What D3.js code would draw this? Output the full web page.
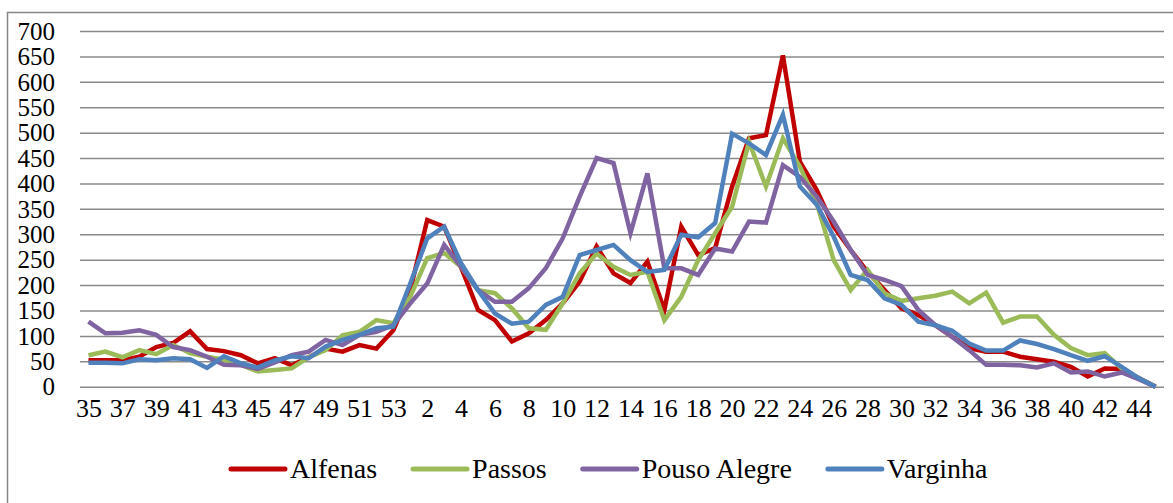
<!DOCTYPE html>
<html>
<head>
<meta charset="utf-8">
<script src="https://cdn.jsdelivr.net/npm/d3@7"></script>
</head>
<body style="margin:0;background:#fff">
<svg id="chart" width="1173" height="503" style="display:block;background:#fff"></svg>
<script>
// Epidemiological weeks (end of one year, then the next)
const weeks = [35,36,37,38,39,40,41,42,43,44,45,46,47,48,49,50,51,52,53,
  1,2,3,4,5,6,7,8,9,10,11,12,13,14,15,16,17,18,19,20,21,22,23,24,25,26,27,28,29,30,
  31,32,33,34,35,36,37,38,39,40,41,42,43,44,45];

const alfenas = [52,52,52,59,78,86,109,74,70,62,46,56,42,58,75,69,82,75,111,190,
  328,315,235,151,131,89,105,131,164,207,276,223,204,246,151,315,259,273,394,489,495,652,
  443,387,315,269,226,190,154,141,121,98,76,69,69,59,54,49,39,20,36,35,17,0];

const passos = [62,69,58,72,64,82,66,59,53,43,30,33,36,58,72,101,108,131,125,177,
  253,263,236,190,184,154,115,112,164,223,262,236,220,226,131,177,249,302,354,482,394,489,
  433,361,249,190,230,184,169,174,179,187,164,185,126,138,138,102,76,62,66,36,17,0];

const pousoAlegre = [128,105,106,111,102,78,72,59,43,42,35,48,62,69,92,82,102,108,121,164,
  203,279,236,190,167,167,194,233,292,374,450,440,302,420,233,233,220,272,266,325,323,436,
  413,374,325,269,220,210,198,151,121,98,72,43,43,42,38,46,28,30,20,28,15,0];

const varginha = [47,47,46,54,52,56,54,37,60,46,38,52,60,56,79,92,102,115,118,203,
  292,315,243,190,144,124,128,161,177,259,269,279,249,226,230,299,294,322,498,479,456,535,
  394,358,295,220,210,174,161,128,121,110,85,71,71,91,84,74,62,51,60,39,17,0];

const seriesNames = ["Alfenas", "Passos", "Pouso Alegre", "Varginha"];
const seriesColors = ["#C00000", "#9BBB59", "#8064A2", "#4F81BD"];
const yTicks = [0,50,100,150,200,250,300,350,400,450,500,550,600,650,700];

const FONT_STYLE = "font-family:'Liberation Serif'";

const series = [alfenas, passos, pousoAlegre, varginha].map((values, k) => ({
  name: seriesNames[k], color: seriesColors[k], values
}));

const svg = d3.select("#chart");

// outer frame
svg.append("rect")
  .attr("x", 7.5).attr("y", 12.5)
  .attr("width", 1180).attr("height", 510)
  .attr("fill", "none").attr("stroke", "#878787").attr("stroke-width", 1.5);

const plotLeft = 80, plotRight = 1164, plotTop = 31, plotBottom = 386.7;

const x = d3.scalePoint()
  .domain(d3.range(weeks.length))
  .range([plotLeft, plotRight])
  .padding(0.5);

const y = d3.scaleLinear().domain([0, 700]).range([plotBottom, plotTop]);

// gridlines
const grid = svg.append("g")
  .attr("transform", `translate(${plotLeft},0)`)
  .call(d3.axisLeft(y).tickValues(yTicks).tickSize(-(plotRight - plotLeft)).tickFormat(""));
grid.select(".domain").remove();
grid.selectAll("line").attr("stroke", "#8a8a8a").attr("stroke-width", 1.5);

// y labels
const yAxis = svg.append("g")
  .attr("transform", `translate(55,0)`)
  .call(d3.axisLeft(y).tickValues(yTicks).tickSize(0).tickPadding(0));
yAxis.attr("font-family", null).attr("font-size", null);
yAxis.select(".domain").remove();
yAxis.selectAll("text")
  .attr("style", FONT_STYLE)
  .attr("font-size", 25)
  .attr("fill", "#000")
  .attr("dy", "0.33em");

// x labels
const xAxis = svg.append("g")
  .attr("transform", `translate(0,${plotBottom})`)
  .call(d3.axisBottom(x)
    .tickValues(d3.range(0, weeks.length, 2))
    .tickSize(0).tickPadding(0)
    .tickFormat(i => weeks[i]));
xAxis.attr("font-family", null).attr("font-size", null);
xAxis.select(".domain").remove();
xAxis.selectAll("text")
  .attr("style", FONT_STYLE)
  .attr("font-size", 26)
  .attr("fill", "#000")
  .attr("dy", null)
  .attr("y", 30);

// lines
const line = d3.line()
  .x((d, i) => x(i))
  .y(d => y(d));

svg.append("g").selectAll("path")
  .data(series)
  .join("path")
  .attr("d", d => line(d.values))
  .attr("fill", "none")
  .attr("stroke", d => d.color)
  .attr("stroke-width", 4.5)
  .attr("stroke-linejoin", "miter")
  .attr("stroke-miterlimit", 4);

// legend
const legend = svg.append("g");
const items = legend.selectAll("g").data(series).join("g");
items.append("line")
  .attr("x1", 0).attr("x2", 54).attr("y1", 0).attr("y2", 0)
  .attr("stroke", d => d.color).attr("stroke-width", 5).attr("stroke-linecap", "round");
items.append("text")
  .attr("x", 59).attr("y", 0).attr("dy", "0.33em")
  .attr("style", FONT_STYLE)
  .attr("font-size", 28)
  .attr("fill", "#000")
  .text(d => d.name);

let widths = [];
items.each(function() { widths.push(this.getBBox().width); });
const gap = 36;
const total = d3.sum(widths) + gap * (widths.length - 1);
let cx = 609.5 - total / 2;
items.attr("transform", (d, i) => {
  const t = `translate(${cx},469)`;
  cx += widths[i] + gap;
  return t;
});
</script>
</body>
</html>
